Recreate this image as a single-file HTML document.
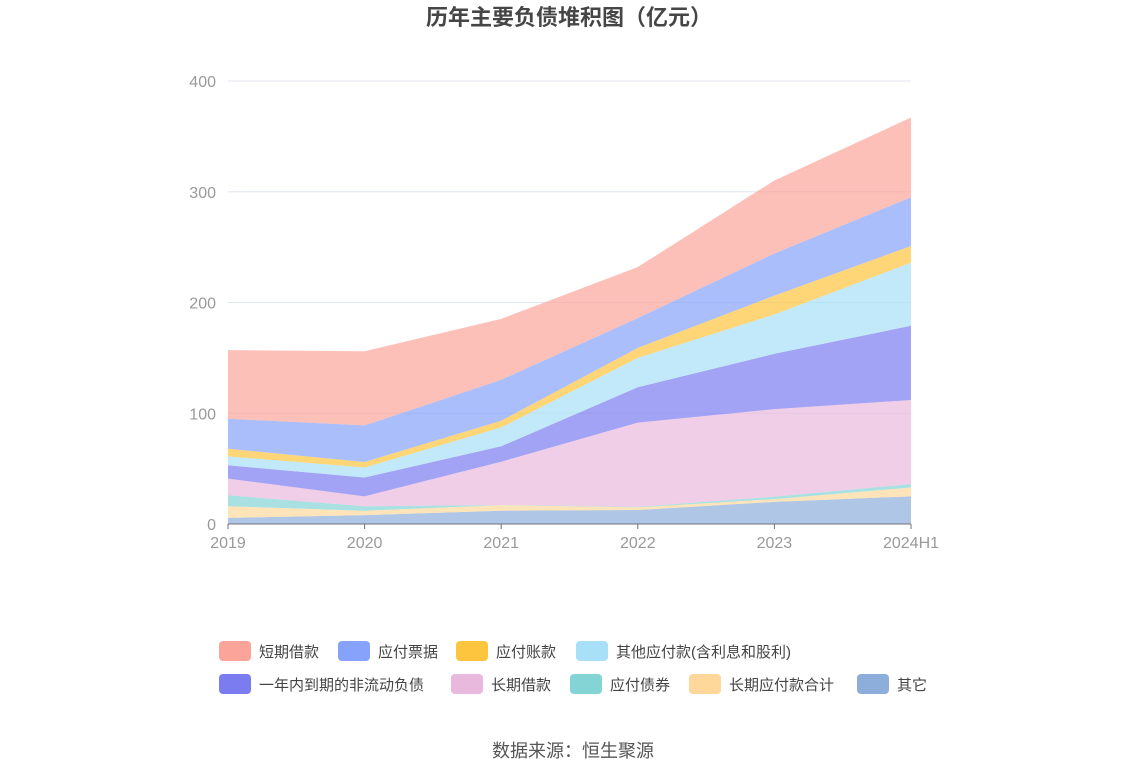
<!DOCTYPE html>
<html><head><meta charset="utf-8">
<style>
body{margin:0;background:#fff;width:1147px;height:776px;overflow:hidden;font-family:"Liberation Sans","Noto Sans CJK SC",sans-serif;}
svg{display:block}
</style></head>
<body>
<svg id="chart" width="1147" height="776">
<text x="569" y="25" text-anchor="middle" font-size="22" font-weight="bold" fill="#464646" font-family="Liberation Sans, Noto Sans CJK SC, sans-serif">历年主要负债堆积图（亿元）</text>
<g id="grid"></g>
<g id="areas"></g>
<g id="axes"></g>
<g id="legend"></g>
<text x="573" y="757" text-anchor="middle" font-size="18" fill="#555" font-family="Liberation Sans, Noto Sans CJK SC, sans-serif">数据来源：恒生聚源</text>
</svg>
<script>
const categories = ["2019","2020","2021","2022","2023","2024H1"];
const seriesNames = ["其它","长期应付款合计","应付债券","长期借款","一年内到期的非流动负债","其他应付款(含利息和股利)","应付账款","应付票据","短期借款"];
const qita = [5.5, 8, 12, 12.6, 20, 25];
const changqiYingfu = [10.5, 4, 5, 2.4, 2.5, 8];
const yingfuZhaiquan = [10, 4, 0.2, 0.5, 2.2, 3];
const changqiJiekuan = [15, 9, 39, 76, 79, 76];
const yinianNei = [12, 17, 14, 32, 50, 67];
const qitaYingfu = [8, 9, 17, 26.5, 35.5, 57];
const yingfuZhangkuan = [7, 5, 6, 9, 17, 15];
const yingfuPiaoju = [27, 33, 37, 27, 38, 44];
const duanqiJiekuan = [62, 67, 55, 46, 66, 72];
const yTicks = [0,100,200,300,400];
const seriesData = [qita,changqiYingfu,yingfuZhaiquan,changqiJiekuan,yinianNei,qitaYingfu,yingfuZhangkuan,yingfuPiaoju,duanqiJiekuan];
const colors = ["#8daedb","#fed89a","#84d4d6","#e9b9dd","#7b7cf0","#a8e0f8","#fdc43e","#86a2fb","#fba59a"];
const NS="http://www.w3.org/2000/svg";
const x0=228,x1=911,yBase=524,yTop=81;
const xs=i=>x0+(x1-x0)*i/(categories.length-1);
const ys=v=>yBase-(yBase-yTop)*v/400;
function mk(tag,attrs,parent){const e=document.createElementNS(NS,tag);for(const k in attrs)e.setAttribute(k,attrs[k]);parent.appendChild(e);return e;}
const grid=document.getElementById('grid'),areas=document.getElementById('areas'),axes=document.getElementById('axes'),legend=document.getElementById('legend');
yTicks.forEach(t=>{
  if(t>0){const l=mk('line',{x1:x0,x2:x1,y1:ys(t),y2:ys(t),stroke:'#e0e6f1','stroke-width':1},grid);
  
  }
  const tx=mk('text',{x:216,y:ys(t)+6,'text-anchor':'end','font-size':16,fill:'#999'},axes);tx.textContent=t;
  
  
});
let cum=categories.map(()=>0);
seriesData.forEach((s,si)=>{
  const low=cum.slice();const high=cum.map((c,i)=>c+s[i]);
  let d='';high.forEach((v,i)=>{d+=(i?'L':'M')+xs(i)+','+ys(v);});
  for(let i=low.length-1;i>=0;i--)d+='L'+xs(i)+','+ys(low[i]);
  d+='Z';
  const p=mk('path',{d:d,fill:colors[si],'fill-opacity':0.7},areas);
  
  
  cum=high;
});
const ax=mk('line',{x1:x0,x2:x1,y1:yBase,y2:yBase,stroke:'#6e7079','stroke-width':1},axes);


categories.forEach((c,i)=>{
  const tk=mk('line',{x1:xs(i),x2:xs(i),y1:yBase,y2:yBase+5,stroke:'#6e7079'},axes);
  
  
  const t=mk('text',{x:xs(i),y:548,'text-anchor':i===categories.length-1?'middle':'middle','font-size':16,fill:'#999'},axes);t.textContent=c;
  
  
});
const legendOrder=[8,7,6,5,4,3,2,1,0];
const legendPos=[[219,651],[338,651],[456,651],[576,651],[219,684],[451,684],[570,684],[689,684],[857,684]];
legendOrder.forEach((si,k)=>{
  const [lx,ly]=legendPos[k];
  const g=mk('g',{},legend);
  
  
  mk('rect',{x:lx,y:ly-10,width:32,height:20,rx:4,fill:colors[si]},g);
  const t=mk('text',{x:lx+40,y:ly+6,'font-size':15,fill:'#444'},g);t.textContent=seriesNames[si];
});
</script>
</body></html>
